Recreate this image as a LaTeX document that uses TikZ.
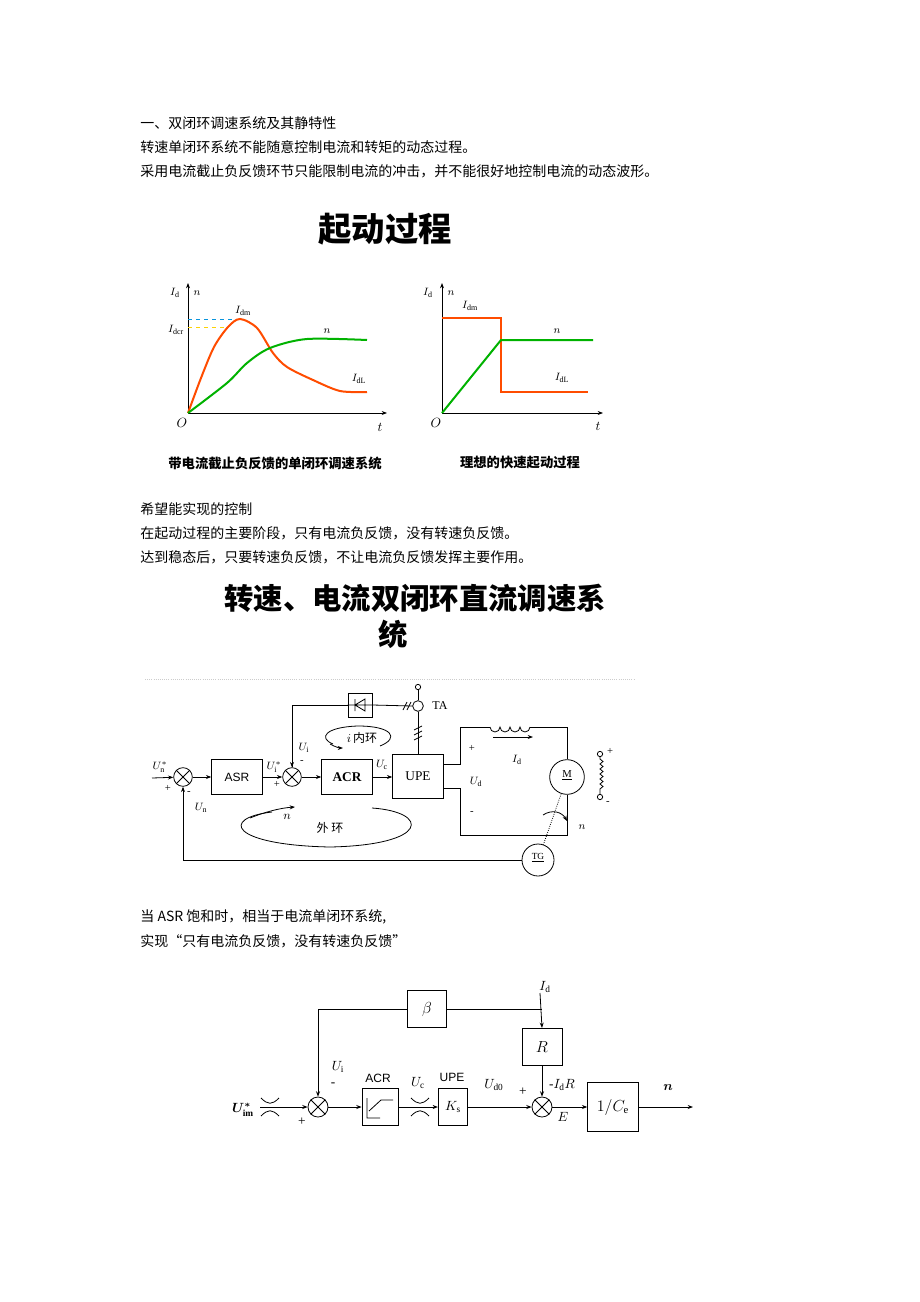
\documentclass[tikz,border=0pt]{standalone}
\usepackage{amsmath}
\usepackage{fontspec}
\setmainfont{Liberation Serif}
\setsansfont{Liberation Sans}
\newfontfamily\cjk{Noto Sans CJK SC}
\usetikzlibrary{arrows.meta,calc}
\tikzset{every picture/.style={line width=0.6pt}}
\tikzset{
  blk/.style={draw, minimum width=0pt, inner sep=0pt},
  sumj/.style={draw, circle, minimum size=15pt, inner sep=0pt},
  lbl/.style={inner sep=0.5pt, font=\footnotesize},
  txt/.style={anchor=west, inner sep=0pt, font=\cjk\fontsize{10.5}{12}\selectfont},
  sig/.style={-{Stealth[length=4pt,width=3pt]}},
}
\newcommand{\crossit}[1]{\draw (#1.north west)--(#1.south east) (#1.north east)--(#1.south west);}
\newcommand{\satsym}[1]{\draw ($(#1)+(-9,-9)$) .. controls ($(#1)+(-2,-2)$) and ($(#1)+(2,-2)$) .. ($(#1)+(9,-9)$);
  \draw ($(#1)+(-9,9)$) .. controls ($(#1)+(-2,2)$) and ($(#1)+(2,2)$) .. ($(#1)+(9,9)$);}
\begin{document}
\begin{tikzpicture}[x=0.75pt,y=-0.75pt]
\useasboundingbox (0,0) rectangle (920,1302);
\fill[white] (0,0) rectangle (920,1302);

% text lines
\node[txt] (l1) at (140,123) {一、双闭环调速系统及其静特性};
\node[txt] (l2) at (140,147) {转速单闭环系统不能随意控制电流和转矩的动态过程。};
\node[txt] (l3) at (140,171) {采用电流截止负反馈环节只能限制电流的冲击，并不能很好地控制电流的动态波形。};
\node[font=\cjk\bfseries\fontsize{25}{28}\selectfont] (t1) at (385,229) {起动过程};

% left plot
\coordinate (oa) at (188,413);
\draw[sig] (oa) -- (188,283);
\draw[sig] (oa) -- (387,413);
\draw[dashed, cyan!80!blue] (188,319) -- (240,319);
\draw[dashed, yellow!70!orange] (188,327) -- (228,327);
\draw[line width=1.5pt, orange!60!red] plot[smooth] coordinates {(188,413) (201,378) (214,347) (228,327) (240,319) (257,328) (273,353) (287,367) (313,380) (340,391) (367,392)};
\draw[line width=1.5pt, green!70!black] plot[smooth] coordinates {(188,413) (227,383) (247,363) (270,348) (307,339) (367,340)};
\node[lbl] (ida) at (175,293) {$I_{\mathrm d}$};
\node[lbl] (na) at (197,293) {$n$};
\node[lbl] (idma) at (243,311) {$I_{\mathrm{dm}}$};
\node[lbl] (idcr) at (176,330) {$I_{\mathrm{dcr}}$};
\node[lbl] (nca) at (327,331) {$n$};
\node[lbl] (idla) at (359,379) {$I_{\mathrm{dL}}$};
\node[lbl, font=\normalsize] (o1) at (182,423) {$O$};
\node[lbl, font=\normalsize] (t1a) at (380,427) {$t$};
\node[font=\cjk\bfseries\fontsize{10}{12}\selectfont] (c1) at (275,463) {带电流截止负反馈的单闭环调速系统};

% right plot
\coordinate (ob) at (442,413);
\draw[sig] (ob) -- (442,283);
\draw[sig] (ob) -- (603,413);
\draw[line width=1.5pt, orange!60!red] (442,318) -- (501,318) -- (501,392) -- (588,392);
\draw[line width=1.5pt, green!70!black] (ob) -- (501,340) -- (593,340);
\node[lbl] (idb) at (428,293) {$I_{\mathrm d}$};
\node[lbl] (nb) at (451,293) {$n$};
\node[lbl] (idmb) at (470,306) {$I_{\mathrm{dm}}$};
\node[lbl] (ncb) at (557,331) {$n$};
\node[lbl] (idlb) at (562,378) {$I_{\mathrm{dL}}$};
\node[lbl, font=\normalsize] (o2) at (436,423) {$O$};
\node[lbl, font=\normalsize] (t2a) at (598,426) {$t$};
\node[font=\cjk\bfseries\fontsize{10}{12}\selectfont] (c2) at (520,463) {理想的快速起动过程};

\node[txt] (l4) at (140,509) {希望能实现的控制};
\node[txt] (l5) at (140,533) {在起动过程的主要阶段，只有电流负反馈，没有转速负反馈。};
\node[txt] (l6) at (140,557) {达到稳态后，只要转速负反馈，不让电流负反馈发挥主要作用。};
\node[font=\cjk\bfseries\fontsize{22}{26}\selectfont] (t2) at (415,598) {转速、电流双闭环直流调速系};
\node[font=\cjk\bfseries\fontsize{22}{26}\selectfont] (t3) at (393,634) {统};
\draw[densely dotted, gray!40] (145,679) -- (635,679);

% circuit
\begin{scope}[font=\sffamily\small]
\node[sumj, minimum size=14pt] (s1) at (183,777) {}; \crossit{s1}
\node[sumj, minimum size=14pt] (s2) at (292,777) {}; \crossit{s2}
\node[blk, minimum width=38pt, minimum height=26pt] (asr) at (237,777) {ASR};
\node[blk, minimum width=38pt, minimum height=26pt, font=\bfseries] (acr) at (347,777) {ACR};
\node[blk, minimum width=38pt, minimum height=33pt, font=\normalsize] (upe) at (418,776) {UPE};
\node[blk, minimum width=18pt, minimum height=18pt] (dio) at (360,705) {};
\draw (dio.west) -- (dio.east) (355,699) -- (355,711) (355,705) -- (365,699) -- (365,711) -- cycle;
\node[circle, draw, inner sep=0pt, minimum size=8pt] (ta) at (418,706) {};
\node[circle, draw, inner sep=0pt, minimum size=4pt] (tap) at (418,687) {};
\node[lbl, font=\small] (tal) at (440,706) {TA};
\coordinate (inp) at (152,778);
\draw[sig] (inp) -- (s1);
\draw[sig] (s1) -- (asr);
\draw[sig] (asr) -- (s2);
\draw[sig] (s2) -- (acr);
\draw[sig] (acr) -- (upe.west |- acr);
\draw (s2.north) |- (dio.west);
\draw[sig] (292,716) -- (s2.north);
\draw (dio.east) -- (ta.west);
\draw (ta.north) -- (tap);
\draw (ta.south) -- (upe.north);
\draw (403,710) -- (407,702) (407,710) -- (411,702);
\foreach \yy in {728,733,738} \draw (414,\yy+2) -- (422,\yy-2);
% inner loop
\draw (333,744) .. controls (318,738) and (325,727) .. (358,726) .. controls (392,726) and (400,738) .. (380,746);
\draw[-{Stealth[length=4pt]}] (330,744) .. controls (335,747) and (340,748) .. (343,748);
\node[lbl, font=\cjk\small] (inl) at (362,738) {$i$\,内环};
% outer loop
\draw (272,812) .. controls (220,818) and (230,845) .. (330,847) .. controls (430,845) and (430,812) .. (372,808);
\draw[-{Stealth[length=4pt]}] (250,818) .. controls (265,812) and (280,808) .. (295,807);
\node[lbl, font=\itshape\small] (nl) at (287,817) {$n$};
\node[lbl, font=\cjk\small] (wl) at (330,828) {外\ 环};
% labels
\node[lbl] (un1) at (160,767) {$U^*_{\mathrm n}$};
\node[lbl] (p1) at (168,788) {+};
\node[lbl] (m1) at (189,793) {-};
\node[lbl] (un2) at (201,808) {$U_{\mathrm n}$};
\node[lbl] (ui1) at (274,767) {$U^*_{\mathrm i}$};
\node[lbl] (p2) at (277,784) {+};
\node[lbl] (ui2) at (304,748) {$U_{\mathrm i}$};
\node[lbl] (m2) at (302,762) {-};
\node[lbl] (ucl) at (382,765) {$U_{\mathrm c}$};
% armature circuit
\node[circle, draw, inner sep=0pt, minimum size=26pt] (mot) at (567,777) {};
\node[lbl] (ml) at (567,775) {\underline{M}};
\node[circle, draw, inner sep=0pt, minimum size=24pt] (tg) at (538,860) {};
\node[lbl, font=\scriptsize] (tgl) at (538,858) {\underline{TG}};
\draw (upe.east |- 0,764) -- (460,764) -- (460,727) -- (490,727);
\draw (490,727) \foreach \k in {0,1,2,3} {arc (180:0:5)};
\draw (530,727) -- (567,727) -- (mot.north);
\draw (upe.east |- 0,788) -- (460,788) -- (460,835) -- (567,835) -- (mot.south);
\draw[sig] (493,737) -- (533,737);
\node[lbl] (idl) at (517,760) {$I_{\mathrm d}$};
\node[lbl] (pp) at (472,748) {+};
\node[lbl] (udl) at (476,782) {$U_{\mathrm d}$};
\node[lbl] (mm) at (472,813) {-};
\draw[-{Stealth[length=4pt]}] (543,815) .. controls (552,809) and (562,812) .. (567,821);
\node[lbl] (nm) at (582,827) {$n$};
\draw[densely dotted] (mot) -- (tg);
\draw[sig] (tg.west) -| (s1.south);
\node[circle, draw, inner sep=0pt, minimum size=4pt] (f1) at (600,754) {};
\node[circle, draw, inner sep=0pt, minimum size=4pt] (f2) at (600,797) {};
\draw (f1.south) -- (600,759) \foreach \k in {0,...,5} {-- ++(3,2.5) -- ++(-3,2.5)} -- (f2.north);
\node[lbl] (fp) at (610,751) {+};
\node[lbl] (fm) at (608,803) {-};
\end{scope}

\node[txt] (l7) at (140,917) {当 ASR 饱和时，相当于电流单闭环系统,};
\node[txt] (l8) at (140,941) {实现“只有电流负反馈，没有转速负反馈”};

% block diagram
\node[sumj] (j1) at (318,1107) {}; \crossit{j1}
\node[sumj] (j2) at (542,1107) {}; \crossit{j2}
\node[blk, minimum width=27pt, minimum height=28pt] (acr2) at (380,1107) {};
\draw (367,1098) -- (367,1118) -- (380,1118) (369,1111) -- (381,1100) -- (393,1100);
\node[blk, minimum width=22pt, minimum height=28pt] (ks) at (453,1107) {$K_{\mathrm s}$};
\node[blk, minimum width=38pt, minimum height=37pt, font=\large] (ce) at (613,1107) {$1/C_{\mathrm e}$};
\node[blk, minimum width=29pt, minimum height=28pt, font=\large] (beta) at (427,1009) {$\beta$};
\node[blk, minimum width=30pt, minimum height=28pt, font=\large] (rb) at (542,1047) {$R$};
\coordinate (uin) at (260,1107);
\coordinate (nout) at (693,1107);
\coordinate (idin) at (540,993);
\draw[sig] (uin) -- (j1);
\draw[sig] (j1) -- (acr2);
\draw[sig] (acr2) -- (ks);
\draw[sig] (ks) -- (j2);
\draw[sig] (j2) -- (ce);
\draw[sig] (ce) -- (nout);
\draw[sig] (beta.west) -| (j1.north);
\draw (beta.east) -- (rb.north |- beta.east);
\draw[sig] (idin) -- (rb.north);
\draw[sig] (rb.south) -- (j2.north);
\satsym{270,1107}
\satsym{420,1107}
\node[lbl, font=\normalsize] (uim) at (243,1110) {$\boldsymbol{U^*_{\mathrm{im}}}$};
\node[lbl, font=\normalsize] (pl1) at (302,1122) {+};
\node[lbl, font=\normalsize] (mi1) at (333,1085) {-};
\node[lbl, font=\normalsize] (uil) at (338,1067) {$U_{\mathrm i}$};
\node[lbl, font=\sffamily\small] (acrl) at (378,1078) {ACR};
\node[lbl, font=\normalsize] (ucb) at (418,1083) {$U_{\mathrm c}$};
\node[lbl, font=\sffamily\small] (upel) at (452,1077) {UPE};
\node[lbl, font=\normalsize] (ud0) at (494,1085) {$U_{\mathrm{d0}}$};
\node[lbl, font=\normalsize] (pl2) at (523,1092) {+};
\node[lbl, font=\normalsize] (idr) at (562,1085) {-$I_{\mathrm d}R$};
\node[lbl, font=\normalsize] (el) at (563,1117) {$E$};
\node[lbl, font=\normalsize] (nl2) at (668,1088) {$\boldsymbol{n}$};
\node[lbl, font=\normalsize] (idtop) at (545,987) {$I_{\mathrm d}$};
\end{tikzpicture}
\end{document}
